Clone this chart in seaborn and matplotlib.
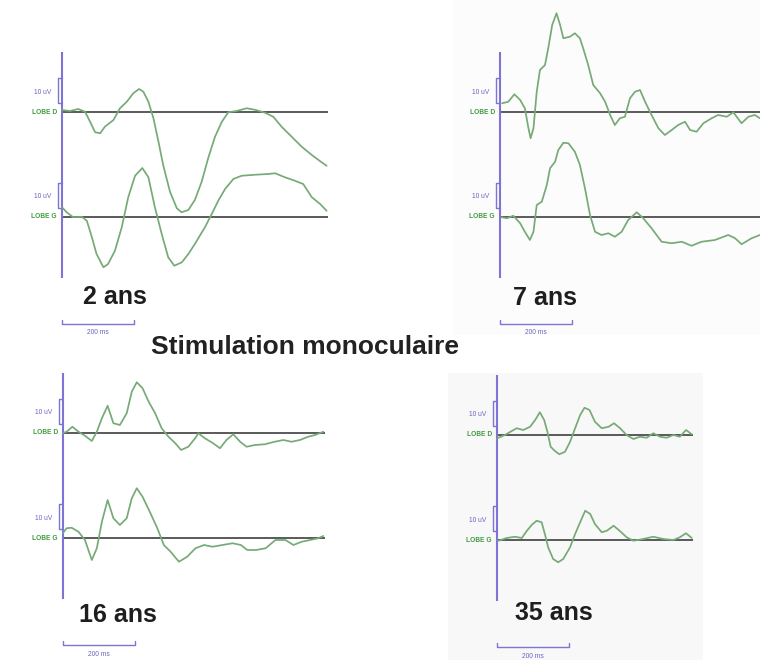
import numpy as np
import pandas as pd
import matplotlib
matplotlib.use("Agg")
import matplotlib.pyplot as plt
from matplotlib.patches import Rectangle
import seaborn as sns

sns.set_theme(style="white")
plt.rcParams['font.family'] = ['Liberation Sans', 'DejaVu Sans']

# ---------------- data (time in ms, amplitude in uV) ----------------
TITLE = "Stimulation monoculaire"
AGES = ["2 ans", "7 ans", "16 ans", "35 ans"]
LEADS = ["LOBE D", "LOBE G"]
SCALE_UV_LABEL = "10 uV"
SCALE_MS_LABEL = "200 ms"
SCALE_UV = 10
SCALE_MS = 200
WINDOW_MS = [740, 740, 728, 545]

T1_D = [0, 22, 45, 64, 78, 92, 106, 119, 143, 161, 180, 198, 214, 226, 240, 254, 268, 281, 300, 319,
        332, 351, 369, 388, 406, 425, 444, 462, 485, 513, 536, 564, 587, 610, 638, 666, 694, 721, 735]
V1_D = [0.8, 0.4, 1.2, 0.1, -3.9, -8.1, -8.5, -5.9, -3.2, 1.5, 4.1, 7.5, 9.2, 8.1, 4.1, -2.5, -11.9, -21.2, -31.9, -38.5,
        -40.1, -39.2, -35.2, -27.9, -18.5, -9.9, -3.9, -0.1, 0.4, 1.5, 0.9, -0.3, -1.9, -5.9, -9.9, -13.9, -17.2, -20.1, -21.5]
T1_G = [0, 13, 31, 55, 69, 83, 96, 115, 128, 147, 166, 184, 203, 223, 240, 258, 277, 295, 312, 333,
        351, 369, 397, 416, 434, 453, 476, 499, 536, 573, 592, 619, 647, 670, 694, 717, 735]
V1_G = [3.9, 1.9, -0.1, 0.1, -1.5, -8.1, -14.8, -20.1, -18.8, -13.5, -4.1, 7.9, 16.5, 19.6, 15.9, 3.9, -6.8, -16.1, -19.5, -18.1,
        -14.8, -10.8, -4.1, 1.2, 6.5, 11.2, 15.2, 16.5, 16.9, 17.2, 17.5, 15.9, 14.5, 13.2, 7.9, 5.2, 2.5]

T2_D = [6, 23, 40, 56, 69, 79, 85, 93, 102, 111, 125, 134, 145, 157, 167, 176, 194, 208, 222, 231,
        245, 259, 278, 292, 306, 319, 333, 347, 361, 375, 389, 403, 421, 440, 458, 477, 495, 514, 528, 546,
        565, 588, 606, 630, 648, 671, 690, 708, 722]
V2_D = [3.5, 4.1, 7.1, 4.8, 1.5, -6.5, -10.5, -6.5, 8.1, 16.8, 18.8, 25.5, 34.8, 39.5, 34.8, 29.5, 30.1, 31.5, 29.5, 25.5,
        18.8, 10.8, 7.5, 4.1, -1.2, -5.2, -2.5, -1.9, 5.5, 8.1, 8.8, 4.1, -1.2, -6.5, -9.2, -7.2, -5.2, -3.9, -7.2, -7.9,
        -4.5, -2.5, -1.2, -1.9, -0.1, -4.5, -1.9, -1.2, -2.5]
T2_G = [5, 19, 37, 56, 69, 83, 93, 102, 116, 130, 139, 153, 162, 176, 190, 208, 222, 236, 250, 264,
        282, 301, 319, 338, 356, 380, 398, 421, 449, 477, 505, 532, 560, 597, 634, 653, 671, 699, 722]
V2_G = [-0.1, -0.5, 0.5, -2.5, -5.9, -9.2, -5.9, 4.8, 6.1, 12.8, 19.5, 22.1, 26.8, 29.7, 29.5, 26.1, 20.8, 11.5, 0.8, -5.9,
        -7.2, -6.5, -7.9, -5.9, -1.2, 1.9, -0.5, -4.5, -9.9, -10.5, -9.9, -11.5, -9.9, -9.2, -7.2, -8.5, -10.9, -8.5, -7.2]

T3_D = [0, 10, 26, 43, 61, 80, 94, 108, 124, 140, 158, 177, 191, 205, 221, 238, 256, 274, 293, 312,
        328, 348, 367, 376, 394, 417, 436, 454, 473, 492, 510, 533, 561, 588, 612, 635, 658, 681, 700, 723]
V3_D = [0, 0.5, 2.5, 0.5, -1.1, -3.2, 0.5, 5.9, 10.9, 3.9, 3.2, 7.9, 16.5, 20.3, 17.9, 12.5, 7.9, 1.9, -1.5, -4.1,
        -6.8, -5.5, -2.1, -0.1, -2.1, -4.1, -6.1, -2.8, -0.5, -3.5, -5.5, -4.8, -4.5, -3.5, -2.8, -3.5, -2.8, -1.5, -0.8, 0.5]
T3_G = [0, 10, 24, 43, 61, 80, 94, 108, 124, 140, 158, 177, 191, 205, 221, 243, 262, 280, 299, 322,
        345, 368, 392, 415, 443, 471, 494, 512, 536, 563, 590, 618, 640, 663, 686, 709, 723]
V3_G = [2.0, 3.9, 4.1, 2.5, -0.8, -8.8, -4.1, 6.5, 15.2, 7.9, 5.2, 7.9, 15.9, 19.9, 16.5, 9.9, 3.9, -2.8, -5.5, -9.5,
        -7.5, -4.1, -2.8, -3.5, -2.8, -2.1, -2.8, -4.8, -4.8, -4.1, -0.8, -0.8, -2.8, -1.5, -0.8, -0.1, 0.8]

T4_D = [0, 4, 22, 41, 55, 73, 92, 106, 119, 131, 140, 149, 161, 173, 189, 203, 217, 231, 243, 257,
        272, 291, 310, 325, 342, 360, 379, 397, 416, 434, 453, 471, 490, 508, 525, 541]
V4_D = [-1.5, -1.1, 0, 1.6, 2.7, 2.0, 3.3, 6.0, 9.1, 6.0, 1.3, -4.7, -6.4, -7.7, -6.7, -2.7, 2.7, 8.0, 10.9, 10.0,
        5.3, 2.7, 3.3, 4.7, 2.7, 0, -1.6, -0.7, -1.1, 0.7, -0.7, -1.1, 0, -0.7, 2.0, 0.3]
T4_G = [4, 27, 50, 69, 83, 97, 110, 124, 133, 142, 156, 170, 184, 203, 217, 231, 245, 259, 272, 291,
        305, 324, 342, 360, 379, 406, 434, 462, 490, 508, 525, 541]
V4_G = [-0.3, 0.8, 1.3, 0.8, 3.7, 6.1, 7.7, 7.1, 2.4, -2.9, -7.6, -8.9, -7.6, -2.9, 2.4, 7.1, 11.7, 10.4, 6.4, 3.1,
        3.7, 5.7, 3.5, 1.1, -0.3, 0.4, 1.3, 0.4, 0, 1.1, 2.7, 0.8]

TRACES = {
    ("2 ans", "LOBE D"): (T1_D, V1_D), ("2 ans", "LOBE G"): (T1_G, V1_G),
    ("7 ans", "LOBE D"): (T2_D, V2_D), ("7 ans", "LOBE G"): (T2_G, V2_G),
    ("16 ans", "LOBE D"): (T3_D, V3_D), ("16 ans", "LOBE G"): (T3_G, V3_G),
    ("35 ans", "LOBE D"): (T4_D, V4_D), ("35 ans", "LOBE G"): (T4_G, V4_G),
}
rows = []
for (age, lead), (ts, vs) in TRACES.items():
    for t, v in zip(ts, vs):
        rows.append({"age": age, "lead": lead, "ms": t, "uV": v})
df = pd.DataFrame(rows)

# ---------------- layout ----------------
W, H = 760, 660
PX_PER_MS = 0.36
PX_PER_UV = 2.5
LEAD_OFFSET = {"LOBE D": 0.0, "LOBE G": -42.0}
ORIGINS = [(62, 112), (500, 112), (63, 433), (497, 435)]   # pixel position of (0 ms, LOBE D baseline)
AGE_POS = [(58, -74), (36, -74.4), (44, -72.8), (50, -71.2)]
BOXES = [None, (-130, 722, -89, 45, "#fcfcfc"), None, (-136, 572, -90, 25, "#f8f8f8")]

TRACE_C = "#76aa76"
BASE_C = "#4d4d4d"
AXIS_C = "#7d74d4"
SCALE_TXT_C = "#6a63c4"
LEAD_TXT_C = "#3f9a3f"

fig = plt.figure(figsize=(W / 100, H / 100), dpi=100)
fig.patch.set_facecolor("white")

for i, age in enumerate(AGES):
    x0, yb = ORIGINS[i]
    ax = fig.add_axes([0, 0, 1, 1])
    ax.set_xlim(-x0 / PX_PER_MS, (W - x0) / PX_PER_MS)
    ax.set_ylim(-(H - yb) / PX_PER_UV, yb / PX_PER_UV)
    ax.axis("off")
    ax.patch.set_alpha(0)

    if BOXES[i] is not None:
        bx0, bx1, by0, by1, bc = BOXES[i]
        ax.add_patch(Rectangle((bx0, by0), bx1 - bx0, by1 - by0, facecolor=bc,
                               edgecolor="none", zorder=0))

    # vertical axis line
    ax.vlines(0, -66.4, 24, color=AXIS_C, lw=1.5, zorder=2)

    for lead in LEADS:
        off = LEAD_OFFSET[lead]
        sub = df[(df.age == age) & (df.lead == lead)].copy()
        sub["y"] = sub["uV"] + off
        ax.hlines(off, 0, WINDOW_MS[i], color=BASE_C, lw=1.3, zorder=1)
        sns.lineplot(data=sub, x="ms", y="y", ax=ax, color=TRACE_C, lw=1.25,
                     estimator=None, sort=False, legend=False, zorder=3)
        # 10 uV calibration bracket
        lo, hi = off + 3.6, off + 3.6 + SCALE_UV
        ax.plot([0, -10, -10, 0], [lo, lo, hi, hi], color=AXIS_C, lw=1.0, zorder=2)
        ax.text(-30, off + 8, SCALE_UV_LABEL, ha="right", va="center",
                fontsize=4.8, color=SCALE_TXT_C)
        ax.text(-14, off, lead, ha="right", va="center", fontsize=4.8,
                color=LEAD_TXT_C, fontweight="bold")

    # age label
    ax.text(AGE_POS[i][0], AGE_POS[i][1], age, ha="left", va="center",
            fontsize=18, fontweight="bold", color="#1e1e1e")

    # 200 ms time bar
    yb_bar = -84.6
    ax.plot([0, 0, SCALE_MS, SCALE_MS], [yb_bar + 1.6, yb_bar, yb_bar, yb_bar + 1.6],
            color=AXIS_C, lw=1.0)
    ax.text(SCALE_MS / 2, yb_bar - 3.8, SCALE_MS_LABEL, ha="center", va="center",
            fontsize=4.8, color=SCALE_TXT_C)

sns.despine(fig=fig, left=True, bottom=True)
fig.text(305 / W, 1 - 347 / H, TITLE, ha="center", va="center",
         fontsize=19, fontweight="bold", color="#222222")

fig.savefig("out.png", dpi=100, facecolor="white")
